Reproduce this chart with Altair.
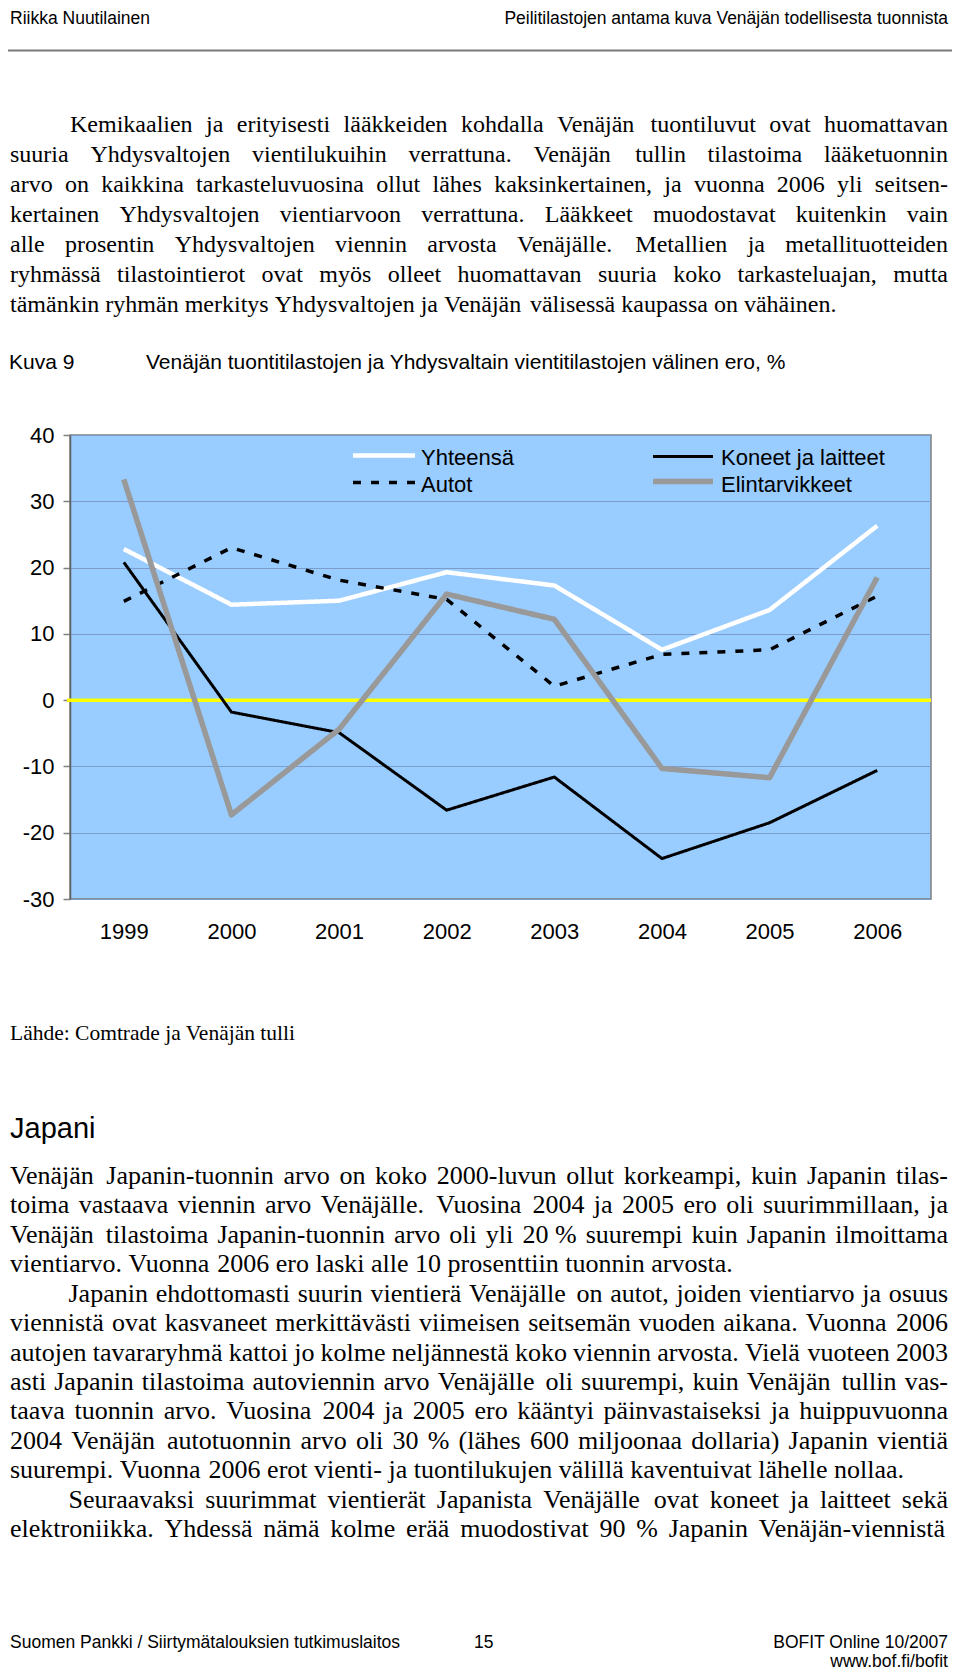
import altair as alt
import pandas as pd

# ---------------- chart data ----------------
years = ["1999", "2000", "2001", "2002", "2003", "2004", "2005", "2006"]
yhteensa = [22.8, 14.4, 15.0, 19.3, 17.3, 7.6, 13.6, 26.3]
autot = [14.9, 23.0, 18.1, 15.2, 2.1, 6.9, 7.6, 15.7]
koneet = [20.8, -1.8, -4.9, -16.6, -11.6, -23.9, -18.5, -10.6]
elintarvikkeet = [33.3, -17.3, -4.4, 16.0, 12.2, -10.3, -11.7, 18.5]
series_names = ["Yhteensä", "Autot", "Koneet ja laitteet", "Elintarvikkeet"]
y_ticks = [-30, -20, -10, 0, 10, 20, 30, 40]

# ---------------- page texts ----------------
header_left = "Riikka Nuutilainen"
header_right = "Peilitilastojen antama kuva Venäjän todellisesta tuonnista"
para1 = [
    "Kemikaalien ja erityisesti lääkkeiden kohdalla Venäjän tuontiluvut ovat huomattavan",
    "suuria Yhdysvaltojen vientilukuihin verrattuna.  Venäjän tullin tilastoima lääketuonnin",
    "arvo on kaikkina tarkasteluvuosina ollut lähes kaksinkertainen, ja vuonna 2006 yli seitsen-",
    "kertainen Yhdysvaltojen vientiarvoon verrattuna. Lääkkeet muodostavat kuitenkin vain",
    "alle prosentin Yhdysvaltojen viennin arvosta Venäjälle. Metallien ja metallituotteiden",
    "ryhmässä tilastointierot ovat myös olleet huomattavan suuria koko tarkasteluajan, mutta",
    "tämänkin ryhmän merkitys Yhdysvaltojen ja Venäjän välisessä kaupassa on vähäinen.",
]
caption_label = "Kuva 9"
caption_title = "Venäjän tuontitilastojen ja Yhdysvaltain vientitilastojen välinen ero, %"
source_text = "Lähde: Comtrade ja Venäjän tulli"
section_title = "Japani"
japani_p1 = [
    "Venäjän Japanin-tuonnin arvo on koko 2000-luvun ollut korkeampi, kuin Japanin tilas-",
    "toima vastaava viennin arvo Venäjälle. Vuosina 2004 ja 2005 ero oli suurimmillaan, ja",
    "Venäjän tilastoima Japanin-tuonnin arvo oli yli 20\u00a0% suurempi kuin Japanin ilmoittama",
    "vientiarvo. Vuonna 2006 ero laski alle 10 prosenttiin tuonnin arvosta.",
]
japani_p2 = [
    "Japanin ehdottomasti suurin vientierä Venäjälle on autot, joiden vientiarvo ja osuus",
    "viennistä ovat kasvaneet merkittävästi viimeisen seitsemän vuoden aikana. Vuonna 2006",
    "autojen tavararyhmä kattoi jo kolme neljännestä koko viennin arvosta. Vielä vuoteen 2003",
    "asti Japanin tilastoima autoviennin arvo Venäjälle oli suurempi, kuin Venäjän tullin vas-",
    "taava tuonnin arvo. Vuosina 2004 ja 2005 ero kääntyi päinvastaiseksi ja huippuvuonna",
    "2004 Venäjän autotuonnin arvo oli 30 % (lähes 600 miljoonaa dollaria) Japanin vientiä",
    "suurempi. Vuonna 2006 erot vienti- ja tuontilukujen välillä kaventuivat lähelle nollaa.",
]
japani_p3 = [
    "Seuraavaksi suurimmat vientierät Japanista Venäjälle ovat koneet ja laitteet sekä",
    "elektroniikka. Yhdessä nämä kolme erää muodostivat 90 % Japanin Venäjän-viennistä",
]
footer_left = "Suomen Pankki / Siirtymätalouksien tutkimuslaitos"
footer_page = "15"
footer_right1 = "BOFIT Online 10/2007"
footer_right2 = "www.bof.fi/bofit"

# ---------------- layout / styles ----------------
PLOT_W, PLOT_H = 861, 464
PAD = {"left": 62, "top": 427, "right": 21, "bottom": 771}
ORIGIN_X, ORIGIN_Y = 8 + PAD["left"], 8 + PAD["top"]


def vx(px):
    return px - ORIGIN_X


def vy(py):
    return py - ORIGIN_Y


SERIF = "Liberation Serif, Times New Roman, serif"
SANS = "Liberation Sans, Arial, sans-serif"

styles = {
    "Yhteensä": {"color": "#ffffff", "width": 4.5, "dash": [1, 0]},
    "Autot": {"color": "#000000", "width": 3.5, "dash": [8, 10]},
    "Koneet ja laitteet": {"color": "#000000", "width": 3.0, "dash": [1, 0]},
    "Elintarvikkeet": {"color": "#999999", "width": 5.5, "dash": [1, 0]},
}

# Times metrics (per 1000 em) for text justification
TW = {}
for ch in "acezäå":
    TW[ch] = 444
for ch in "bdghknopquvxyö0123456789":
    TW[ch] = 500
for ch in "fr-()":
    TW[ch] = 333
for ch in "ijlt:;":
    TW[ch] = 278
TW.update({"s": 389, "m": 778, "w": 722, " ": 250, "\u00a0": 250, ".": 250, ",": 250, "%": 833})
TW.update({"A": 722, "B": 667, "C": 667, "D": 722, "E": 611, "F": 556, "G": 722, "H": 722,
           "I": 333, "J": 389, "K": 722, "L": 611, "M": 889, "N": 722, "O": 722, "P": 556,
           "Q": 722, "R": 667, "S": 556, "T": 611, "U": 722, "V": 722, "W": 944, "X": 722,
           "Y": 722, "Z": 611, "Ä": 722, "Ö": 722})


def tw(s):
    return sum(TW.get(c, 500) for c in s) / 1000.0


def justify(paras, x_left, x_right, indent_x, y0, lh, size):
    rows = []
    n = 0
    for lines, indent, last_justified in paras:
        for i, line in enumerate(lines):
            words = [w for w in line.split(" ") if w]
            start = indent_x if (indent and i == 0) else x_left
            natural = sum(tw(w) for w in words) * size
            is_last = i == len(lines) - 1
            if len(words) > 1 and (not is_last or last_justified):
                gap = (x_right - start - natural) / (len(words) - 1)
            else:
                gap = 0.25 * size
            x = start
            for w in words:
                rows.append({"w": w, "px": vx(x), "py": vy(y0 + n * lh)})
                x += tw(w) * size + gap
            n += 1
    return pd.DataFrame(rows)


def words_layer(df, size, font):
    return alt.Chart(df).mark_text(
        align="left", baseline="alphabetic", font=font, fontSize=size, color="black"
    ).encode(
        x=alt.X("px:Q", scale=None, axis=None),
        y=alt.Y("py:Q", scale=None, axis=None),
        text="w:N",
    )


def text_layer(text, px, py, size, font, align="left"):
    return alt.Chart(pd.DataFrame({"t": [text]})).mark_text(
        align=align, baseline="alphabetic", font=font, fontSize=size, color="black"
    ).encode(text="t:N", x=alt.value(vx(px)), y=alt.value(vy(py)))


# ---------------- chart ----------------
values_by_series = {
    "Yhteensä": yhteensa,
    "Autot": autot,
    "Koneet ja laitteet": koneet,
    "Elintarvikkeet": elintarvikkeet,
}
df = pd.DataFrame(
    [{"year": y, "series": s, "value": v}
     for s in series_names for y, v in zip(years, values_by_series[s])]
)

x_enc = alt.X(
    "year:O", sort=years,
    scale=alt.Scale(type="point", padding=0.5),
    axis=alt.Axis(title=None, labelAngle=0, ticks=False, domain=False, grid=False,
                  labelPadding=22, labelFontSize=22, labelFont=SANS, labelColor="black"),
)
y_enc = alt.Y(
    "value:Q",
    scale=alt.Scale(domain=[-30, 40], nice=False, zero=False),
    axis=alt.Axis(title=None, values=y_ticks, grid=True, gridColor="#7c9ccb", gridWidth=1,
                  tickSize=7, tickColor="#808080", tickWidth=1.5,
                  domainColor="#606060", domainWidth=1.5,
                  labelExpr="'' + datum.value",
                  labelPadding=9, labelFontSize=22, labelFont=SANS, labelColor="black"),
)

base = alt.Chart(df)

zero_line = alt.Chart(pd.DataFrame({"value": [0]})).mark_rule(
    color="#ffff00", strokeWidth=3.5
).encode(y=y_enc, x=alt.value(-3), x2=alt.value(PLOT_W))

line_layers = []
for name in series_names:
    st = styles[name]
    line_layers.append(
        base.transform_filter(alt.datum.series == name).mark_line(
            color=st["color"], strokeWidth=st["width"], strokeDash=st["dash"],
            strokeJoin="round",
        ).encode(x=x_enc, y=y_enc)
    )

# legend (inside the plot, two columns)
legend_pos = {
    "Yhteensä": (353, 415, 455.5, 421, 465),
    "Autot": (353, 415, 482.5, 421, 492),
    "Koneet ja laitteet": (653, 713, 456.5, 721, 465),
    "Elintarvikkeet": (653, 713, 481.5, 721, 492),
}
legend_layers = []
for name in series_names:
    st = styles[name]
    x1, x2, ly, tx, ty = legend_pos[name]
    legend_layers.append(
        alt.Chart(pd.DataFrame({"s": [name]})).mark_rule(
            color=st["color"], strokeWidth=st["width"], strokeDash=st["dash"]
        ).encode(x=alt.value(vx(x1)), x2=alt.value(vx(x2)), y=alt.value(vy(ly)))
    )
    legend_layers.append(text_layer(name, tx, ty, 22, SANS))

# page text
header_rule = alt.Chart(pd.DataFrame({"s": ["rule"]})).mark_rule(
    color="#7a7a7a", strokeWidth=2
).encode(x=alt.value(vx(8)), x2=alt.value(vx(952)), y=alt.value(vy(50.5)))

p1_words = justify([(para1, True, False)], 10, 948, 70, 131.5, 30.0, 24)
jp_words = justify(
    [(japani_p1, False, False), (japani_p2, True, False), (japani_p3, True, True)],
    10, 948, 68.5, 1184, 29.43, 26,
)

text_layers = [
    text_layer(header_left, 10, 24, 17.5, SANS),
    text_layer(header_right, 948, 24, 17.5, SANS, align="right"),
    header_rule,
    words_layer(p1_words, 24, SERIF),
    text_layer(caption_label, 9, 369, 21, SANS),
    text_layer(caption_title, 146, 369, 21, SANS),
    text_layer(source_text, 10, 1040, 21.5, SERIF),
    text_layer(section_title, 10, 1138, 29, SANS),
    words_layer(jp_words, 26, SERIF),
    text_layer(footer_left, 10, 1648, 17.5, SANS),
    text_layer(footer_page, 474, 1648, 17.5, SANS),
    text_layer(footer_right1, 948, 1648, 17.5, SANS, align="right"),
    text_layer(footer_right2, 948, 1667, 17.5, SANS, align="right"),
]

chart = alt.layer(
    zero_line, *line_layers, *legend_layers, *text_layers
).properties(
    width=PLOT_W, height=PLOT_H,
    padding=PAD,
    autosize=alt.AutoSizeParams(type="none"),
    background="white",
).configure_view(
    fill="#99ccff", stroke="#808080", strokeWidth=1.5
)

chart.save("out.html", embed_options={"renderer": "svg", "actions": False})
